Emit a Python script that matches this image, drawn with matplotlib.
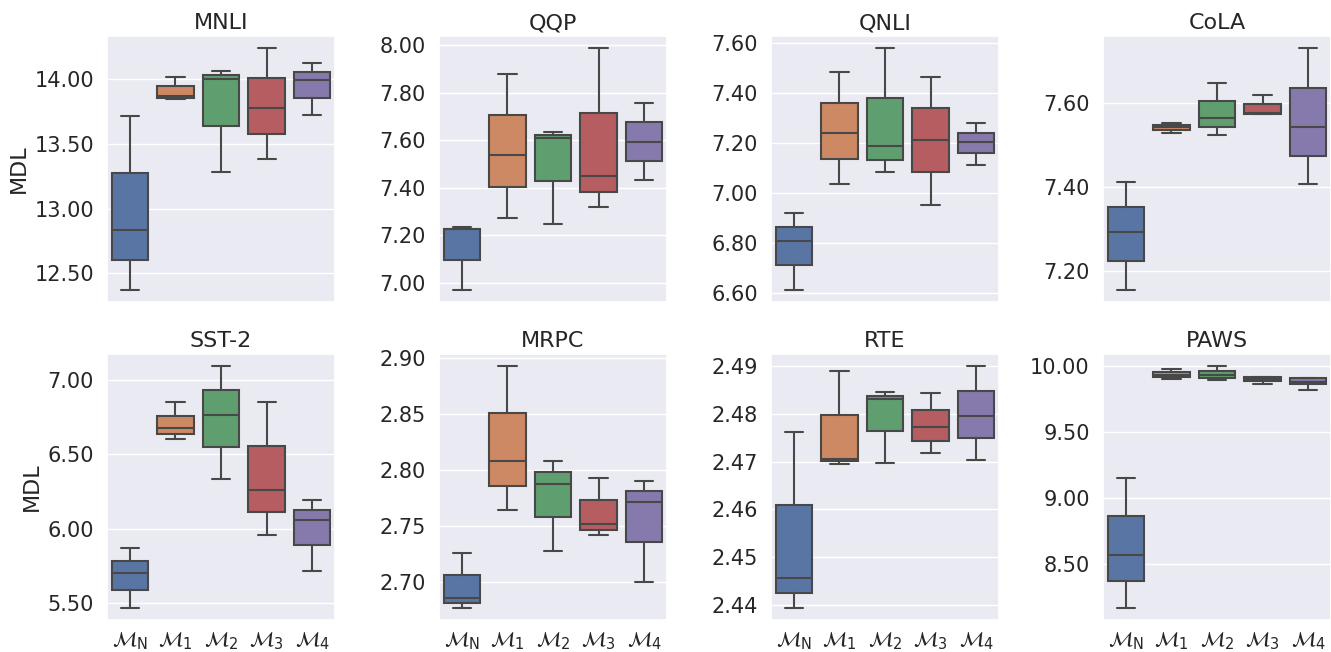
import matplotlib
matplotlib.use("Agg")
import matplotlib.pyplot as plt
from matplotlib.ticker import MultipleLocator, FormatStrFormatter
import seaborn as sns

# ---- data: (whisker low, Q1, median, Q3, whisker high) per model ----
models = [r"$\mathcal{M}_\mathrm{N}$", r"$\mathcal{M}_1$", r"$\mathcal{M}_2$",
          r"$\mathcal{M}_3$", r"$\mathcal{M}_4$"]

mnli = [(12.372, 12.603, 12.833, 13.274, 13.715),
        (13.849, 13.854, 13.872, 13.946, 14.020),
        (13.287, 13.641, 14.000, 14.031, 14.062),
        (13.385, 13.579, 13.777, 14.008, 14.241),
        (13.726, 13.859, 13.992, 14.056, 14.123)]
qqp = [(6.969, 7.097, 7.225, 7.228, 7.236),
       (7.271, 7.403, 7.537, 7.706, 7.880),
       (7.249, 7.427, 7.610, 7.622, 7.635),
       (7.319, 7.383, 7.450, 7.717, 7.989),
       (7.431, 7.512, 7.594, 7.676, 7.759)]
qnli = [(6.611, 6.709, 6.807, 6.862, 6.920),
        (7.034, 7.137, 7.240, 7.361, 7.484),
        (7.082, 7.133, 7.186, 7.382, 7.580),
        (6.952, 7.082, 7.212, 7.338, 7.464),
        (7.110, 7.158, 7.204, 7.241, 7.280)]
cola = [(7.155, 7.223, 7.292, 7.352, 7.412),
        (7.529, 7.536, 7.542, 7.547, 7.552),
        (7.523, 7.542, 7.564, 7.606, 7.647),
        (7.575, 7.575, 7.577, 7.598, 7.619),
        (7.408, 7.474, 7.542, 7.636, 7.731)]
sst2 = [(5.469, 5.587, 5.705, 5.785, 5.870),
        (6.605, 6.637, 6.675, 6.759, 6.855),
        (6.333, 6.552, 6.768, 6.931, 7.094),
        (5.959, 6.113, 6.264, 6.559, 6.851),
        (5.718, 5.890, 6.062, 6.126, 6.193)]
mrpc = [(2.677, 2.681, 2.686, 2.706, 2.726),
        (2.764, 2.786, 2.8085, 2.851, 2.893),
        (2.728, 2.758, 2.788, 2.798, 2.8085),
        (2.742, 2.747, 2.752, 2.773, 2.793),
        (2.700, 2.736, 2.772, 2.781, 2.790)]
rte = [(2.4394, 2.4425, 2.4456, 2.4609, 2.4763),
       (2.4696, 2.4701, 2.4706, 2.4798, 2.4890),
       (2.4698, 2.4764, 2.4830, 2.4838, 2.4846),
       (2.4717, 2.4744, 2.4772, 2.4808, 2.4843),
       (2.4704, 2.4750, 2.4796, 2.4848, 2.4900)]
paws = [(8.1725, 8.3725, 8.575, 8.8625, 9.150),
        (9.9025, 9.915, 9.9275, 9.950, 9.9725),
        (9.8925, 9.9075, 9.930, 9.960, 9.9975),
        (9.8625, 9.885, 9.900, 9.915, 9.9175),
        (9.8175, 9.8625, 9.880, 9.9075, 9.910)]

titles = ["MNLI", "QQP", "QNLI", "CoLA", "SST-2", "MRPC", "RTE", "PAWS"]
datasets = [mnli, qqp, qnli, cola, sst2, mrpc, rte, paws]
tick_steps = [0.5, 0.2, 0.2, 0.2, 0.5, 0.05, 0.01, 0.5]

sns.set_theme(style="darkgrid")
plt.rcParams["font.family"] = ["DejaVu Sans"]
plt.rcParams["font.size"] = 15

base = sns.color_palette("deep", 5)
colors = [sns.desaturate(c, 0.75) for c in base]
line_col = "#484848"

fig, axes = plt.subplots(2, 4, figsize=(13.31, 6.52), dpi=100)
fig.subplots_adjust(left=0.0804, right=1.0, top=0.9448, bottom=0.0491,
                    wspace=0.456, hspace=0.195)

for idx, (ax, data, title, step) in enumerate(zip(axes.flat, datasets, titles, tick_steps)):
    stats = [dict(whislo=d[0], q1=d[1], med=d[2], q3=d[3], whishi=d[4], fliers=[])
             for d in data]
    bp = ax.bxp(stats, positions=range(len(data)), widths=0.8, patch_artist=True,
                showfliers=False, capwidths=0.4,
                boxprops=dict(edgecolor=line_col, linewidth=1.5),
                medianprops=dict(color=line_col, linewidth=1.5),
                whiskerprops=dict(color=line_col, linewidth=1.5),
                capprops=dict(color=line_col, linewidth=1.5))
    for patch, c in zip(bp["boxes"], colors):
        patch.set_facecolor(c)
    ax.set_xlim(-0.5, len(data) - 0.5)
    ax.xaxis.grid(False)
    ax.yaxis.set_major_locator(MultipleLocator(step))
    ax.yaxis.set_major_formatter(FormatStrFormatter("%.2f"))
    ax.tick_params(axis="y", labelsize=15)
    ax.tick_params(axis="x", labelsize=15, pad=1)
    ax.set_title(title, fontsize=16, pad=5)
    ax.set_xticks(range(len(data)))
    if idx >= 4:
        ax.set_xticklabels(models, fontsize=15)
    else:
        ax.set_xticklabels([])
    if idx % 4 == 0:
        ax.set_ylabel("MDL", fontsize=16)

fig.savefig("out.png", dpi=100)
